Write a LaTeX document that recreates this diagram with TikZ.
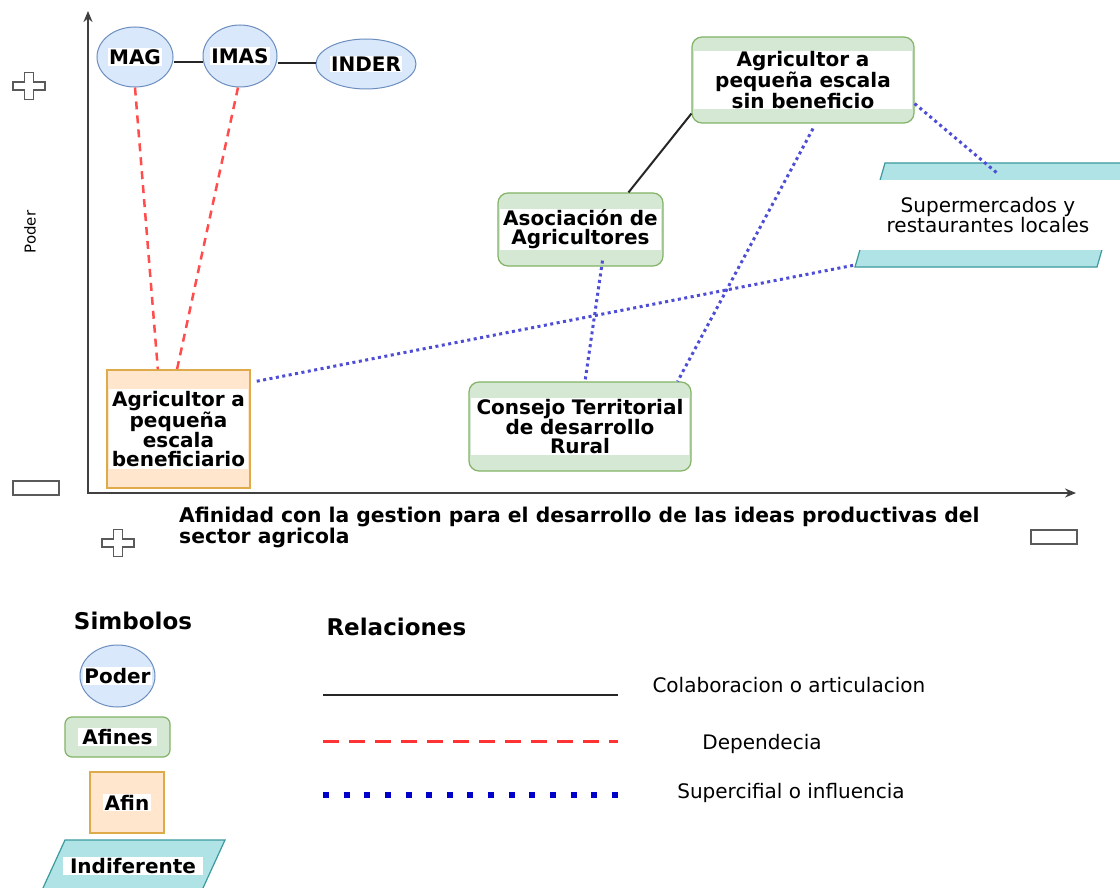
\documentclass[tikz,border=0pt]{standalone}
\usepackage{fontspec}
\setmainfont{DejaVu Sans}
\usetikzlibrary{shapes.geometric, arrows.meta, calc}
\definecolor{ellf}{HTML}{DAE8FC}
\definecolor{ellb}{HTML}{6C8EBF}
\definecolor{grnf}{HTML}{D5E8D4}
\definecolor{grnb}{HTML}{82B366}
\definecolor{orgf}{HTML}{FFE6CC}
\definecolor{orgb}{HTML}{DFAA4A}
\definecolor{cyf}{HTML}{B0E3E6}
\definecolor{cyb}{HTML}{3A9A9E}
\definecolor{depred}{HTML}{FF4D4D}
\definecolor{legred}{HTML}{FF3333}
\definecolor{inflblue}{HTML}{4D4DD6}
\definecolor{legblue}{HTML}{0000CC}
\definecolor{signgray}{HTML}{5A5A5A}
\newcommand\mybf{\fontsize{20}{19}\selectfont\bfseries}
\newcommand\myrm{\fontsize{20}{19}\selectfont}
\newcommand\mytitle{\fontsize{23}{26}\selectfont\bfseries}
\tikzset{
  ell/.style={ellipse, draw=ellb, fill=ellf, line width=1pt, inner sep=0pt},
  grn/.style={rectangle, rounded corners=10pt, draw=grnb, fill=grnf, line width=1.2pt, inner sep=0pt},
  org/.style={rectangle, draw=orgb, fill=orgf, line width=1.5pt, inner sep=0pt},
  wl/.style={fill=white, inner xsep=1.5pt, inner ysep=1pt, align=center, font=\mybf},
  band/.style={fill=white, inner xsep=0pt, inner ysep=1pt, align=center, font=\mybf},
  paral/.style={draw=cyb, fill=cyf, line width=1.2pt},
  collab/.style={draw=black!85, line width=2pt},
  dep/.style={draw=depred, line width=2.5pt, dash pattern=on 8pt off 6pt},
  infl/.style={draw=inflblue, line width=3pt, dash pattern=on 3pt off 3.5pt},
  axisline/.style={draw=black!75, line width=1.8pt},
  signline/.style={draw=signgray, line width=1.6pt, fill=white},
  minusbox/.style={rectangle, draw=signgray, line width=2pt, fill=white, minimum width=46pt, minimum height=14pt, inner sep=0pt},
  plussign/.pic={\draw[signline] (-4.5,-13.5) -- (4.5,-13.5) -- (4.5,-4) -- (16,-4) -- (16,4) -- (4.5,4) -- (4.5,13.5) -- (-4.5,13.5) -- (-4.5,4) -- (-16,4) -- (-16,-4) -- (-4.5,-4) -- cycle;}
}
\begin{document}
\begin{tikzpicture}[x=1pt,y=-1pt]
\useasboundingbox[fill=white] (0,0) rectangle (1120,888);
\clip (0,0) rectangle (1120,888);

% axes
\coordinate (ytop) at (88,11);
\coordinate (orig) at (88,493);
\coordinate (xend) at (1076,493);
\draw[axisline, {Stealth[length=11pt,width=9pt,fill=black]}-{Stealth[length=11pt,width=9pt,fill=black]}] (ytop) -- (orig) -- (xend);

% signs
\pic at (29,86) {plussign};
\pic at (118,543) {plussign};
\node[minusbox] (minus1) at (36,488) {};
\node[minusbox] (minus2) at (1054,537) {};

\node[rotate=90, font=\fontsize{15}{18}\selectfont] (ylab) at (30,232) {Poder};

% power ellipses
\node[ell, minimum width=76pt, minimum height=60pt] (mag) at (135,57) {};
\node[ell, minimum width=74pt, minimum height=62pt] (imas) at (240,56) {};
\node[ell, minimum width=100pt, minimum height=50pt] (inder) at (366,64) {};
\draw[collab] (mag.east |- 0,62) -- (imas.west |- 0,62);
\draw[collab] (imas.east |- 0,63) -- (inder.west |- 0,63);
\node[wl] (magt) at (mag) {MAG};
\node[wl] (imast) at (imas) {IMAS};
\node[wl] (indert) at (inder) {INDER};

% boxes
\node[org, minimum width=143pt, minimum height=118pt] (ben) at (178.5,429) {};
\node[band, text width=139pt, inner ysep=2pt] (bent) at (ben) {Agricultor a\\pequeña\\escala\\beneficiario};

\node[grn, minimum width=222pt, minimum height=86pt] (sinb) at (803,80) {};
\node[band, text width=218pt] (sinbt) at (sinb) {Agricultor a\\pequeña escala\\sin beneficio};

\node[grn, minimum width=165pt, minimum height=73pt] (aso) at (580.5,229.5) {};
\node[band, text width=161pt] (asot) at (aso) {Asociación de\\Agricultores};

\node[grn, minimum width=222pt, minimum height=89pt] (cons) at (580,426.5) {};
\node[band, text width=218pt] (const) at (cons) {Consejo Territorial\\de desarrollo\\Rural};

% parallelogram
\coordinate (smtl) at (885,163);
\coordinate (smtr) at (1127,163);
\coordinate (smbr) at (1097,267);
\coordinate (smbl) at (855,267);
\draw[paral] (smtl) -- (smtr) -- (smbr) -- (smbl) -- cycle;
\node[fill=white, minimum width=268pt, minimum height=70pt, align=center, font=\myrm, inner sep=0pt] (smt) at (988,215) {Supermercados y\\restaurantes locales};
\coordinate (smtop) at (997,173);
\coordinate (smend) at (855,265);

% connectors
\draw[dep] (mag.south) -- ($(ben.north west)!0.357!(ben.north east)$);
\draw[dep] ($(imas.south)+(-2,0)$) -- ($(ben.north west)!0.49!(ben.north east)$);
\draw[collab] ($(aso.north)+(48,0)$) -- ($(sinb.south west)+(0,-10)$);
\draw[infl] ($(ben.north east)+(6,12)$) -- (smend);
\draw[infl] ($(aso.south)+(22,-6)$) -- ($(cons.north)+(5,0)$);
\draw[infl] ($(sinb.south)+(10,5)$) -- ($(cons.north east)+(-14,0)$);
\draw[infl] ($(sinb.south east)+(0,-20)$) -- (smtop);

% axis title
\node[anchor=north west, align=left, font=\fontsize{20.3}{19}\selectfont\bfseries, inner sep=0pt] (xlab) at (179,507) {Afinidad con la gestion para el desarrollo de las ideas productivas del\\sector agricola};

% legend: symbols
\node[anchor=base, font=\mytitle] (simb) at (133,629) {Simbolos};
\node[ell, minimum width=75pt, minimum height=62pt] (lpoder) at (117.5,676) {};
\node[wl] (lpodert) at (lpoder) {Poder};
\node[grn, rounded corners=7pt, minimum width=105pt, minimum height=40pt] (lafines) at (117.5,737) {};
\node[wl, inner xsep=4.5pt] (lafinest) at (lafines) {Afines};
\node[org, minimum width=74pt, minimum height=61pt] (lafin) at (127,802.5) {};
\node[wl] (lafint) at (lafin) {Afin};
\coordinate (iptl) at (65,840);
\coordinate (iptr) at (225,840);
\coordinate (ipbr) at (197.5,900);
\coordinate (ipbl) at (37.5,900);
\draw[paral] (iptl) -- (iptr) -- (ipbr) -- (ipbl) -- cycle;
\node[wl, inner xsep=7pt] (lindt) at (133,866) {Indiferente};

% legend: relations
\node[anchor=base west, font=\mytitle] (rel) at (323,635) {Relaciones};
\coordinate (l1a) at (323,695); \coordinate (l1b) at (618,695);
\coordinate (l2a) at (323,741); \coordinate (l2b) at (618,741);
\coordinate (l3a) at (323,795); \coordinate (l3b) at (618,795);
\draw[collab, line width=2.5pt] (l1a) -- (l1b);
\draw[draw=legred, line width=3pt, dash pattern=on 16pt off 10pt] (l2a) -- (l2b);
\draw[draw=legblue, line width=6pt, dash pattern=on 6pt off 14.64pt] (l3a) -- (l3b);
\node[anchor=base west, font=\myrm] (t1) at (649,692) {Colaboracion o articulacion};
\node[anchor=base, font=\myrm] (t2) at (762,749) {Dependecia};
\node[anchor=base, font=\myrm] (t3) at (791,798) {Supercifial o influencia};
\end{tikzpicture}
\end{document}
